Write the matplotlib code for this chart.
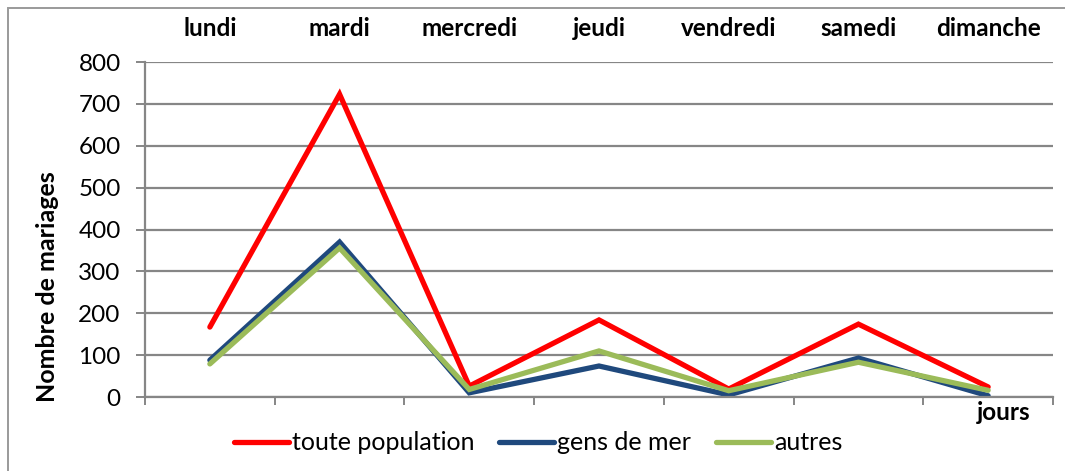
import matplotlib.pyplot as plt
from matplotlib.patches import Rectangle

plt.rcParams['font.family'] = ['Lato', 'DejaVu Sans']

jours = ['lundi', 'mardi', 'mercredi', 'jeudi', 'vendredi', 'samedi', 'dimanche']
toute_population = [167, 723, 26, 184, 19, 174, 24]
gens_de_mer = [88, 370, 10, 74, 5, 93, 3]
autres = [79, 356, 18, 110, 15, 83, 16]

fs = 17.5
fig = plt.figure(figsize=(10.65, 4.71), dpi=100)
ax = fig.add_axes([145/1065, 1-397/471, 908/1065, 335/471])

x = list(range(len(jours)))
ax.plot(x, toute_population, color='#ff0000', lw=3.8, label='toute population', solid_capstyle='round', solid_joinstyle='miter')
ax.plot(x, gens_de_mer, color='#1f497d', lw=3.8, label='gens de mer', solid_capstyle='round', solid_joinstyle='miter')
ax.plot(x, autres, color='#9bbb59', lw=3.8, label='autres', solid_capstyle='round', solid_joinstyle='miter')

ax.set_xlim(-0.5, len(jours) - 0.5)
ax.set_ylim(0, 800)
ax.set_yticks(range(0, 801, 100))
ax.yaxis.grid(True, color='#868686', lw=1.6)
ax.set_axisbelow(True)
ax.tick_params(axis='y', labelsize=fs, length=6.5, color='#868686', width=1.4, pad=11)

ax.set_xticks([i - 0.5 for i in range(len(jours) + 1)])
ax.set_xticklabels([])
ax.tick_params(axis='x', length=6, color='#868686', width=1.4, direction='out')

for s in ['top', 'right']:
    ax.spines[s].set_visible(False)
for s in ['left', 'bottom']:
    ax.spines[s].set_color('#868686')
    ax.spines[s].set_linewidth(1.6)

top = ax.secondary_xaxis('top')
top.set_xticks(x)
top.set_xticklabels(jours, fontsize=fs, fontweight='bold')
top.tick_params(length=0, pad=16)
top.spines['top'].set_visible(False)

ax.set_ylabel('Nombre de mariages', fontsize=18, fontweight='bold')
ax.yaxis.set_label_coords(-86/908, 110/335)
ax.text(6.12, -38, 'jours', fontsize=fs, fontweight='bold', ha='center', va='center')

ax.legend(loc='center', bbox_to_anchor=(393/908, -46/335), ncol=3, frameon=False,
          fontsize=18, handlelength=2.2, handletextpad=0.12, columnspacing=1.0)

fig.patches.append(Rectangle((8/1065, -0.1), 1.2, 1.1-8/471, transform=fig.transFigure,
                             fill=False, edgecolor='#9a9a9a', lw=1.4))

fig.savefig('out.png', dpi=100)
